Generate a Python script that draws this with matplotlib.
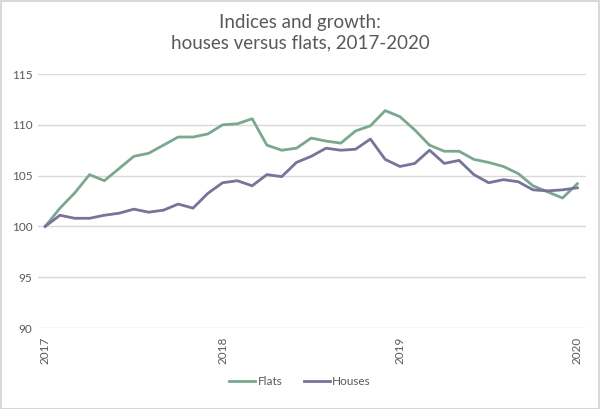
import matplotlib.pyplot as plt
from matplotlib.patches import Rectangle

# monthly index, Jan 2017 = 100
flats = [100.0, 101.8, 103.3, 105.1, 104.5, 105.7, 106.9, 107.2, 108.0, 108.8,
         108.8, 109.1, 110.0, 110.1, 110.6, 108.0, 107.5, 107.7, 108.7, 108.4,
         108.2, 109.4, 109.9, 111.4, 110.8, 109.5, 108.0, 107.4, 107.4, 106.6,
         106.3, 105.9, 105.2, 104.0, 103.4, 102.8, 104.2]
houses = [100.0, 101.1, 100.8, 100.8, 101.1, 101.3, 101.7, 101.4, 101.6, 102.2,
          101.8, 103.25, 104.3, 104.5, 104.0, 105.1, 104.9, 106.3, 106.9, 107.7,
          107.5, 107.6, 108.6, 106.6, 105.9, 106.2, 107.5, 106.2, 106.5, 105.1,
          104.3, 104.6, 104.4, 103.6, 103.5, 103.6, 103.8]
year_labels = ['2017', '2018', '2019', '2020']

months = range(len(flats))

fig = plt.figure(figsize=(6, 4.09), dpi=100)
plt.rcParams['font.family'] = ['Lato', 'DejaVu Sans']
ax = fig.add_axes([0.063, 0.198, 0.914, 0.621])

ax.plot(months, flats, color='#7aa88f', lw=2.0, label='Flats')
ax.plot(months, houses, color='#787399', lw=2.0, label='Houses')

ax.set_ylim(90, 115)
ax.set_xlim(-0.5, 36.6)
ax.set_yticks(range(90, 116, 5))
ax.set_xticks([0, 12, 24, 36])
ax.set_xticklabels(year_labels, rotation=90, va='top', ha='center')
ax.tick_params(axis='both', length=0, labelsize=8.5, colors='#595959')
ax.tick_params(axis='x', pad=6)
ax.tick_params(axis='y', pad=4)
ax.grid(axis='y', color='#d9d9d9', lw=1)
ax.set_axisbelow(True)
for s in ax.spines.values():
    s.set_visible(False)

fig.suptitle('Indices and growth:\nhouses versus flats, 2017-2020',
             y=0.965, fontsize=13.5, color='#595959', linespacing=1.25)

fig.legend(loc='center', bbox_to_anchor=(0.5, 0.068), ncol=2, frameon=False,
           fontsize=8.5, handlelength=2.2, columnspacing=1.8, handletextpad=0.2,
           labelcolor='#595959')

# light frame round the whole picture
fig.patches.append(Rectangle((0.001, 0.001), 0.997, 0.997, transform=fig.transFigure,
                             fill=False, edgecolor='#d9d9d9', lw=1.5))

fig.savefig('out.png', dpi=100)
